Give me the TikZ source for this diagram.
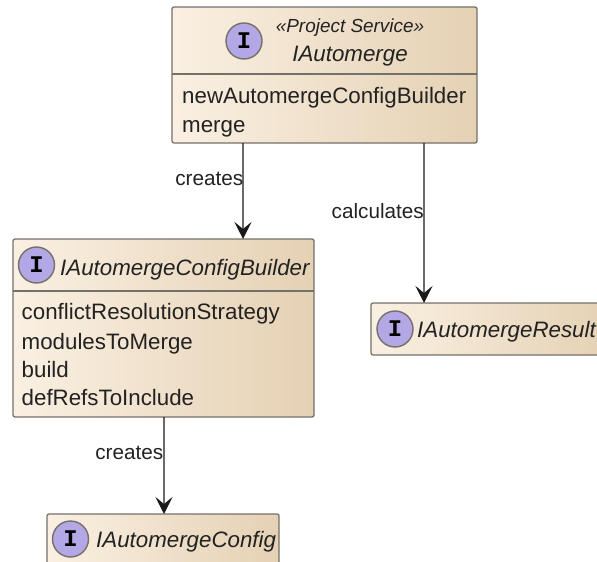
\documentclass[tikz,border=0pt]{standalone}
\usepackage{fontspec}
\setmainfont{Liberation Sans}
\newfontfamily\monob{Liberation Mono}
\usetikzlibrary{arrows.meta}
\definecolor{boxl}{HTML}{FAF0E2}
\definecolor{boxr}{HTML}{E5D1B4}
\definecolor{boxline}{HTML}{74706A}
\definecolor{ifill}{HTML}{B4A7E5}
\definecolor{txt}{HTML}{222222}
\tikzset{
  x=1bp,y=-1bp,
  umlbox/.style={draw=boxline,line width=1.3bp,rounded corners=2bp,left color=boxl,right color=boxr,shading angle=90,anchor=north west,inner sep=0pt,outer sep=0pt},
  badge/.style={circle,draw=boxline,line width=1.4bp,fill=ifill,minimum size=36bp,inner sep=0pt,text=black,font=\monob\bfseries\fontsize{24}{24}\selectfont},
  member/.style={anchor=base west,inner sep=0pt,text=txt,font=\fontsize{22.4}{26}\selectfont},
  titletext/.style={anchor=base west,inner sep=0pt,text=txt,font=\itshape\fontsize{22.4}{26}\selectfont},
  stereo/.style={anchor=base,inner sep=0pt,text=txt,font=\itshape\fontsize{19}{22}\selectfont},
  conn/.style={draw=black!90,line width=1.4bp,-{Stealth[length=17bp,width=17bp,inset=7bp]}},
  edgelabel/.style={inner sep=0pt,text=txt,font=\fontsize{20.8}{24}\selectfont},
  divider/.style={draw=boxline,line width=1.3bp}
}
\begin{document}
\begin{tikzpicture}
\useasboundingbox (0,0) rectangle (597,562);
\clip (0,0) rectangle (597,562);
% boxes
\node[umlbox,minimum width=305bp,minimum height=136bp] (top) at (172,7) {};
\node[umlbox,minimum width=301bp,minimum height=178bp] (builder) at (13,239) {};
\node[umlbox,minimum width=240bp,minimum height=52bp] (result) at (371,303) {};
\node[umlbox,minimum width=232bp,minimum height=60bp] (config) at (47,514) {};
% dividers
\draw[divider] ([yshift=-67bp]top.north west) -- ([yshift=-67bp]top.north east);
\draw[divider] ([yshift=-52bp]builder.north west) -- ([yshift=-52bp]builder.north east);
% badges
\node[badge] (btop) at (244,41) {I};
\node[badge] (bbuilder) at (36.5,265) {I};
\node[badge] (bresult) at (395,329) {I};
\node[badge] (bconfig) at (70.5,539) {I};
% top text
\node[stereo] (tstereo) at (350,33) {«Project Service»};
\node[titletext,anchor=base] (ttitle) at (350,62) {IAutomerge};
\node[member] (m1) at (182,104) {newAutomergeConfigBuilder};
\node[member] (m2) at (182,133) {merge};
% builder text
\node[titletext] (btitle) at (60,275) {IAutomergeConfigBuilder};
\node[member] (b1) at (21.5,319) {conflictResolutionStrategy};
\node[member] (b2) at (21.5,349) {modulesToMerge};
\node[member] (b3) at (21.5,377) {build};
\node[member] (b4) at (21.5,405) {defRefsToInclude};
% others
\node[titletext] (rtitle) at (417,337) {IAutomergeResult};
\node[titletext] (ctitle) at (96,547) {IAutomergeConfig};
% connectors
\draw[conn] ([xshift=71bp]top.south west) -- ([xshift=230bp]builder.north west)
  node[edgelabel,pos=0.375,anchor=east,xshift=1bp] (l1) {creates};
\draw[conn] ([xshift=252bp]top.south west) -- ([xshift=53bp]result.north west)
  node[edgelabel,pos=0.425,anchor=east,xshift=0.5bp] (l2) {calculates};
\draw[conn] ([xshift=151bp]builder.south west) -- ([xshift=117bp]config.north west)
  node[edgelabel,pos=0.37,anchor=east] (l3) {creates};
\end{tikzpicture}
\end{document}
